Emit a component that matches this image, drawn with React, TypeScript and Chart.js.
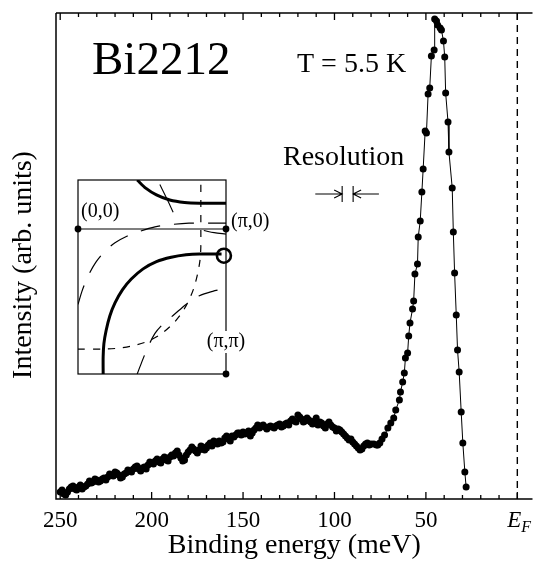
import React, { useEffect, useRef } from "react";
import { Chart, registerables } from "chart.js";

Chart.register(...registerables);

const FONT = '"Liberation Serif", "Times New Roman", "DejaVu Serif", serif';

// ---- Main spectrum (binding energy in meV, intensity in arb. units) ----
const broadEnergy = [
  250, 249, 248, 247, 246, 245, 244, 243, 242, 241,
  240, 239, 238, 237, 236, 235, 234, 233, 232, 231,
  230, 229, 228, 227, 226, 225, 224, 223, 222, 221,
  220, 219, 218, 217, 216, 215, 214, 213, 212, 211,
  210, 209, 208, 207, 206, 205, 204, 203, 202, 201,
  200, 199, 198, 197, 196, 195, 194, 193, 192, 191,
  190, 189, 188, 187, 186, 185, 184, 183, 182, 181,
  180, 179, 178, 177, 176, 175, 174, 173, 172, 171,
  170, 169, 168, 167, 166, 165, 164, 163, 162, 161,
  160, 159, 158, 157, 156, 155, 154, 153, 152, 151,
  150, 149, 148, 147, 146, 145, 144, 143, 142, 141,
  140, 139, 138, 137, 136, 135, 134, 133, 132, 131,
  130, 129, 128, 127, 126, 125, 124, 123, 122, 121,
  120, 119, 118, 117, 116, 115, 114, 113, 112, 111,
  110, 109, 108, 107, 106, 105, 104, 103, 102, 101,
  100, 99, 98, 97, 96, 95, 94, 93, 92, 91,
  90, 89, 88, 87, 86, 85, 84, 83, 82, 81,
  80,
];
const broadIntensity = [
  7, 9, 5, 4, 7, 10, 12, 13, 10, 9,
  12, 14, 10, 12, 13, 15, 18, 16, 17, 20,
  19, 17, 18, 20, 21, 19, 22, 25, 24, 23,
  27, 26, 24, 21, 22, 25, 26, 29, 28, 27,
  30, 32, 33, 30, 28, 31, 32, 30, 34, 37,
  36, 35, 38, 40, 37, 36, 40, 42, 39, 38,
  42, 44, 43, 46, 48, 44, 41, 38, 39, 44,
  47, 49, 52, 50, 48, 46, 49, 53, 52, 49,
  51, 54, 56, 53, 58, 57, 55, 58, 56, 57,
  61, 63, 60, 58, 63, 62, 64, 66, 66, 64,
  67, 65, 66, 68, 63, 66, 69, 71, 74, 71,
  73, 74, 72, 70, 72, 73, 72, 71, 73, 74,
  75, 72, 73, 75, 76, 74, 78, 80, 78, 77,
  84, 82, 80, 77, 78, 81, 79, 77, 75, 78,
  81, 74, 77, 76, 73, 71, 75, 77, 74, 72,
  71, 68, 70, 69, 67, 65, 63, 61, 59, 60,
  57, 55, 53, 51, 49, 50, 53, 55, 56, 54,
  55,
];
const peakEnergy = [
  78.5, 77, 76.3, 75.2, 74, 72.6, 70.8, 69.2, 67.6, 66.5, 64.5, 63.9, 62.7, 61.8, 61.2,
  60.0, 59.4, 58.7, 57.3, 56.7, 56.0, 54.6, 54.2, 53.1, 52.2, 51.5, 50.4, 49.7, 48.8, 47.9,
  47.0, 45.5, 45.2, 44.2, 43.6, 42.2, 41.5, 40.4, 39.7, 39.2, 37.9, 37.4, 35.6, 35.0, 34.3,
  33.4, 32.7, 31.8, 30.7, 29.8, 28.7, 28.0,
];
const peakIntensity = [
  55, 54, 54, 56, 60, 64, 71, 76, 81, 89, 99, 107, 117, 126, 141,
  146, 163, 176, 190, 198, 225, 235, 262, 278, 307, 330, 368, 366, 405, 411,
  443, 449, 480, 478, 474, 471, 469, 458, 442, 406, 377, 347, 311, 267, 226,
  184, 149, 127, 87, 56, 27, 12,
];

// ---- Axis ----
const xMajorTicks = [250, 200, 150, 100, 50, 0];
const xTickLabels = ["250", "200", "150", "100", "50", "E_F"];
const xMinorTicks = [240, 230, 220, 210, 190, 180, 170, 160, 140, 130, 120, 110, 90, 80, 70, 60, 40, 30, 20, 10];
const xMin = -8.3;
const xMax = 252.3;
const yMin = 0;
const yMax = 486;

// ---- Annotations ----
const sampleName = "Bi2212";
const temperatureText = "T = 5.5 K";
const resolutionText = "Resolution";
const resolutionEdges = [95.8, 89.8]; // meV
const resolutionArrowTails = [110.5, 75.7]; // meV
const xTitle = "Binding energy (meV)";
const yTitle = "Intensity (arb. units)";

// ---- Inset (Brillouin zone quadrant, u = kx/pi, v = ky/pi) ----
const fsMainU = [0.17, 0.17, 0.175, 0.19, 0.215, 0.25, 0.30, 0.36, 0.44, 0.53, 0.63, 0.73, 0.82, 0.97];
const fsMainV = [1.0, 0.88, 0.79, 0.70, 0.60, 0.51, 0.42, 0.345, 0.275, 0.225, 0.195, 0.178, 0.172, 0.172];
const fsMirrorU = [0.40, 0.46, 0.53, 0.62, 0.72, 0.82, 1.0];
const fsMirrorV = [-0.338, -0.28, -0.235, -0.2, -0.183, -0.178, -0.178];
const umklapp1U = [0, 0.03, 0.07, 0.12, 0.18, 0.25, 0.33, 0.42, 0.52, 0.62, 0.75, 0.88, 1.0];
const umklapp1V = [0.52, 0.42, 0.32, 0.23, 0.155, 0.095, 0.05, 0.015, -0.015, -0.03, -0.04, -0.04, -0.04];
const umklapp2U = [0.40, 0.43, 0.47, 0.52, 0.58, 0.65, 0.73, 0.82, 0.91, 1.0];
const umklapp2V = [1.0, 0.92, 0.82, 0.72, 0.65, 0.59, 0.52, 0.46, 0.43, 0.41];
const shadowU = [0, 0.18, 0.27, 0.37, 0.47, 0.56, 0.64, 0.70, 0.75, 0.785, 0.81, 0.825, 0.83, 0.83, 0.83];
const shadowV = [0.828, 0.828, 0.822, 0.805, 0.775, 0.725, 0.655, 0.58, 0.49, 0.40, 0.30, 0.21, 0.12, 0, -0.338];
const segUpperU = [0.553, 0.60, 0.643];
const segUpperV = [-0.307, -0.21, -0.115];
const arcNearU = [0.85, 0.92, 1.0];
const arcNearV = [0.01, 0.025, 0.035];
const cornerU = [0, 1, 1];
const cornerV = [0, 0, 1];
const cornerLabels = ["(0,0)", "(π,0)", "(π,π)"];
const markU = [0.986];
const markV = [0.184];
const insetVMin = -0.338;

const zip = (a: number[], b: number[]) => a.map((v, i) => ({ x: v, y: b[i] }));

const mainPlugin = {
  id: "mainDecor",
  beforeDatasetsDraw(chart: any) {
    const { ctx, chartArea, scales } = chart;
    const { left, right, top, bottom } = chartArea;
    const xs = scales.x;
    ctx.save();
    ctx.strokeStyle = "#000";
    ctx.lineWidth = 1.5;
    ctx.beginPath();
    ctx.moveTo(left, top);
    ctx.lineTo(left, bottom);
    ctx.lineTo(right, bottom);
    ctx.moveTo(left, top);
    ctx.lineTo(right, top);
    ctx.stroke();
    ctx.lineWidth = 1.3;
    ctx.beginPath();
    xMajorTicks.forEach((v) => {
      const p = xs.getPixelForValue(v);
      ctx.moveTo(p, bottom);
      ctx.lineTo(p, bottom - 7);
      ctx.moveTo(p, top);
      ctx.lineTo(p, top + 7);
    });
    xMinorTicks.forEach((v) => {
      const p = xs.getPixelForValue(v);
      ctx.moveTo(p, bottom);
      ctx.lineTo(p, bottom - 4);
      ctx.moveTo(p, top);
      ctx.lineTo(p, top + 4);
    });
    ctx.stroke();
    // Fermi level dashed line
    const x0 = xs.getPixelForValue(0);
    ctx.setLineDash([7, 5]);
    ctx.lineWidth = 1.4;
    ctx.beginPath();
    ctx.moveTo(x0, top);
    ctx.lineTo(x0, bottom);
    ctx.stroke();
    ctx.restore();
  },
  afterDraw(chart: any) {
    const { ctx, chartArea, scales } = chart;
    const { left, right } = chartArea;
    const xs = scales.x;
    ctx.save();
    ctx.fillStyle = "#000";
    ctx.textBaseline = "alphabetic";
    // tick labels
    xMajorTicks.forEach((v, i) => {
      const p = xs.getPixelForValue(v);
      const lab = xTickLabels[i];
      if (lab === "E_F") {
        ctx.font = `italic 23px ${FONT}`;
        ctx.textAlign = "left";
        const w = ctx.measureText("E").width;
        ctx.fillText("E", p - w / 2 - 3, 527);
        ctx.font = `italic 16px ${FONT}`;
        ctx.fillText("F", p + w / 2 - 3, 532);
      } else {
        ctx.font = `23px ${FONT}`;
        ctx.textAlign = "center";
        ctx.fillText(lab, p, 527);
      }
    });
    // axis titles
    ctx.font = `28px ${FONT}`;
    ctx.textAlign = "center";
    ctx.fillText(xTitle, (left + right) / 2, 553);
    ctx.save();
    ctx.translate(31, 265);
    ctx.rotate(-Math.PI / 2);
    ctx.fillText(yTitle, 0, 0);
    ctx.restore();
    // annotations
    ctx.textAlign = "left";
    ctx.font = `47px ${FONT}`;
    ctx.fillText(sampleName, 92, 74);
    ctx.font = `28px ${FONT}`;
    ctx.fillText(temperatureText, 297, 72);
    ctx.fillText(resolutionText, 283, 165);
    // resolution marker
    const e1 = xs.getPixelForValue(resolutionEdges[0]);
    const e2 = xs.getPixelForValue(resolutionEdges[1]);
    const t1 = xs.getPixelForValue(resolutionArrowTails[0]);
    const t2 = xs.getPixelForValue(resolutionArrowTails[1]);
    const ym = 194;
    ctx.strokeStyle = "#000";
    ctx.lineWidth = 1.1;
    ctx.beginPath();
    ctx.moveTo(e1, ym - 8);
    ctx.lineTo(e1, ym + 8);
    ctx.moveTo(e2, ym - 8);
    ctx.lineTo(e2, ym + 8);
    ctx.moveTo(t1, ym);
    ctx.lineTo(e1, ym);
    ctx.moveTo(e1 - 8, ym - 4);
    ctx.lineTo(e1, ym);
    ctx.lineTo(e1 - 8, ym + 4);
    ctx.moveTo(t2, ym);
    ctx.lineTo(e2, ym);
    ctx.moveTo(e2 + 8, ym - 4);
    ctx.lineTo(e2, ym);
    ctx.lineTo(e2 + 8, ym + 4);
    ctx.stroke();
    ctx.restore();
  },
};

const insetPlugin = {
  id: "insetDecor",
  beforeDatasetsDraw(chart: any) {
    const { ctx, chartArea, scales } = chart;
    const { left, right, top, bottom } = chartArea;
    const y0 = scales.y.getPixelForValue(0);
    ctx.save();
    ctx.fillStyle = "#fff";
    ctx.fillRect(left, top, right - left, bottom - top);
    ctx.strokeStyle = "#000";
    ctx.lineWidth = 1.2;
    ctx.strokeRect(left, top, right - left, bottom - top);
    ctx.beginPath();
    ctx.moveTo(left, y0);
    ctx.lineTo(right, y0);
    ctx.stroke();
    ctx.restore();
  },
  afterDatasetsDraw(chart: any) {
    const { ctx, scales } = chart;
    const px = cornerU.map((u) => scales.x.getPixelForValue(u));
    const py = cornerV.map((v) => scales.y.getPixelForValue(v));
    ctx.save();
    ctx.font = `20px ${FONT}`;
    ctx.fillStyle = "#000";
    ctx.textBaseline = "alphabetic";
    ctx.textAlign = "left";
    ctx.fillText(cornerLabels[0], px[0] + 3, py[0] - 12);
    ctx.fillText(cornerLabels[1], px[1] + 5, py[1] - 2);
    ctx.textAlign = "center";
    const w = ctx.measureText(cornerLabels[2]).width;
    ctx.fillStyle = "#fff";
    ctx.fillRect(px[2] - w / 2 - 1, py[2] - 43, w + 2, 22);
    ctx.fillStyle = "#000";
    ctx.fillText(cornerLabels[2], px[2], py[2] - 27);
    ctx.restore();
  },
};

export default function App() {
  const mainRef = useRef<HTMLCanvasElement | null>(null);
  const insetRef = useRef<HTMLCanvasElement | null>(null);

  useEffect(() => {
    const points = [...zip(broadEnergy, broadIntensity), ...zip(peakEnergy, peakIntensity)];
    const main = new Chart(mainRef.current as HTMLCanvasElement, {
      type: "scatter",
      data: {
        datasets: [
          {
            data: points,
            showLine: true,
            borderColor: "#000",
            borderWidth: 1,
            pointRadius: 3.5,
            pointBackgroundColor: "#000",
            pointBorderWidth: 0,
            pointHoverRadius: 0,
            clip: false,
          } as any,
        ],
      },
      options: {
        responsive: false,
        animation: false,
        events: [],
        layout: { padding: { left: 56, right: 0, top: 13, bottom: 63 } },
        scales: {
          x: { type: "linear", reverse: true, min: xMin, max: xMax, display: false },
          y: { type: "linear", min: yMin, max: yMax, display: false },
        },
        plugins: { legend: { display: false }, tooltip: { enabled: false } },
      },
      plugins: [mainPlugin],
    });

    const line = (u: number[], v: number[], width: number, dash: number[]) => ({
      data: zip(u, v),
      showLine: true,
      borderColor: "#000",
      borderWidth: width,
      borderDash: dash,
      pointRadius: 0,
      tension: 0.3,
    });

    const inset = new Chart(insetRef.current as HTMLCanvasElement, {
      type: "scatter",
      data: {
        datasets: [
          line(umklapp1U, umklapp1V, 1.2, [20, 14]) as any,
          line(umklapp2U, umklapp2V, 1.2, [20, 14]) as any,
          line(shadowU, shadowV, 1.2, [7, 8]) as any,
          line(segUpperU, segUpperV, 1.1, []) as any,
          line(arcNearU, arcNearV, 1.1, []) as any,
          line(fsMainU, fsMainV, 3, []) as any,
          line(fsMirrorU, fsMirrorV, 3, []) as any,
          {
            data: zip(markU, markV),
            pointRadius: 7,
            pointBorderWidth: 2.6,
            pointBorderColor: "#000",
            pointBackgroundColor: "rgba(255,255,255,0)",
            showLine: false,
            clip: false,
          } as any,
          {
            data: zip(cornerU, cornerV),
            pointRadius: 3.4,
            pointBorderWidth: 0,
            pointBackgroundColor: "#000",
            showLine: false,
            clip: false,
          } as any,
        ],
      },
      options: {
        responsive: false,
        animation: false,
        events: [],
        layout: { padding: { left: 78, right: 536 - 226, top: 180, bottom: 562 - 374 } },
        scales: {
          x: { type: "linear", min: 0, max: 1, display: false },
          y: { type: "linear", min: insetVMin, max: 1, reverse: true, display: false },
        },
        plugins: { legend: { display: false }, tooltip: { enabled: false } },
      },
      plugins: [insetPlugin],
    });

    return () => {
      main.destroy();
      inset.destroy();
    };
  }, []);

  return (
    <div style={{ position: "absolute", left: 0, top: 0, width: 536, height: 562, background: "#fff", overflow: "hidden" }}>
      <canvas ref={mainRef} width={536} height={562} style={{ position: "absolute", left: 0, top: 0 }} />
      <canvas ref={insetRef} width={536} height={562} style={{ position: "absolute", left: 0, top: 0 }} />
    </div>
  );
}
